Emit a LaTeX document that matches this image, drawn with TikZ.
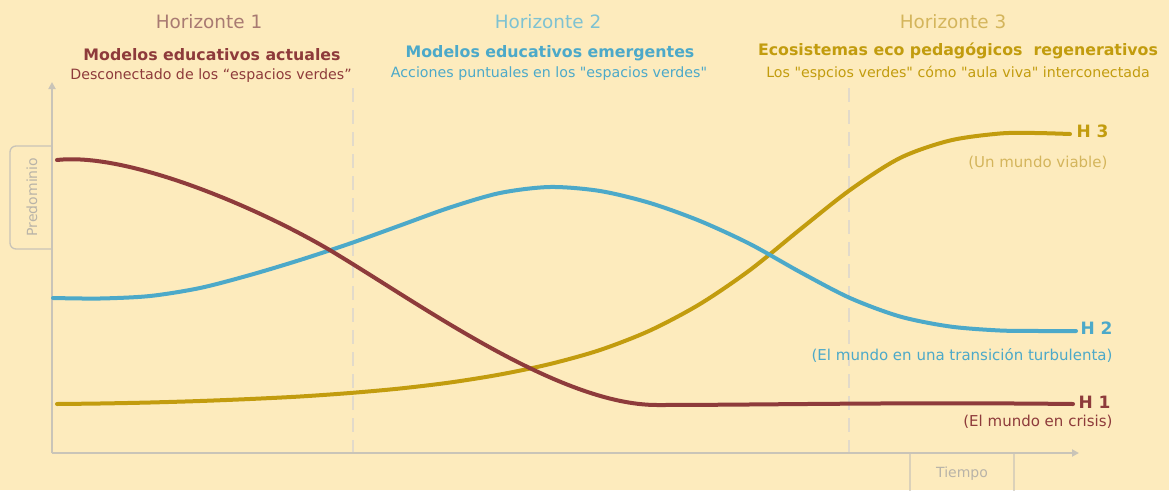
\documentclass[tikz,border=0pt]{standalone}
\usepackage{fontspec}
\setmainfont{DejaVu Sans}[Ligatures=TeXOff]
\usetikzlibrary{arrows.meta}
\definecolor{bg}{HTML}{FDEBBD}
\definecolor{axisc}{HTML}{C9C4B8}
\definecolor{dashc}{HTML}{E2DACA}
\definecolor{hred}{HTML}{8E3B3B}
\definecolor{hredl}{HTML}{A87A72}
\definecolor{hblue}{HTML}{4CA9C9}
\definecolor{hbluel}{HTML}{7EC2D2}
\definecolor{hgold}{HTML}{C29C0E}
\definecolor{hgoldl}{HTML}{D4B55C}
\definecolor{boxtext}{HTML}{B8B3A8}
\tikzset{
  horiz/.style={font=\fontsize{18.4}{20}\selectfont, anchor=center},
  ttl/.style={font=\bfseries\fontsize{15.8}{18}\selectfont, anchor=center},
  sub/.style={font=\fontsize{14.2}{16}\selectfont, anchor=center},
  hlab/.style={font=\bfseries\fontsize{17}{18}\selectfont, anchor=east},
  paren/.style={font=\fontsize{15}{17}\selectfont, anchor=east},
  curve/.style={line width=4pt, line cap=round, line join=round},
  axisline/.style={draw=axisc, line width=2pt},
  guide/.style={draw=dashc, line width=1.5pt, dash pattern=on 14pt off 8pt},
  axbox/.style={draw=axisc, line width=1.3pt, rounded corners=6pt},
  axtext/.style={text=boxtext, font=\fontsize{14}{16}\selectfont}
}
\begin{document}
\begin{tikzpicture}[x=1pt,y=-1pt]
\fill[bg] (0,0) rectangle (1169,490);
\useasboundingbox (0,0) rectangle (1169,490);

% guides
\coordinate (g1t) at (353,88); \coordinate (g1b) at (353,452);
\coordinate (g2t) at (849,88); \coordinate (g2b) at (849,452);
\draw[guide] (g1t) -- (g1b);
\draw[guide] (g2t) -- (g2b);

% axes
\coordinate (o) at (52,453);
\coordinate (ytip) at (52,82);
\coordinate (xtip) at (1079,453);
\draw[axisline, -{Triangle[length=7pt,width=7pt]}] (o) -- (ytip);
\draw[axisline, -{Triangle[length=7pt,width=7pt]}] (o) -- (xtip);

% Predominio box
\draw[axbox] (52,146) -- (10,146) -- (10,249) -- (52,249);
\node[axtext, rotate=90] (pred) at (32,197) {Predominio};
% Tiempo box
\draw[axbox] (910,453) -- (910,500) -- (1014,500) -- (1014,453);
\node[axtext] (tiempo) at (962,474) {Tiempo};

% headers
\node[horiz, text=hredl] (h1) at (209,22) {Horizonte 1};
\node[ttl, text=hred] (t1) at (212,55) {Modelos educativos actuales};
\node[sub, text=hred] (s1) at (211,76) {Desconectado de los “espacios verdes”};

\node[horiz, text=hbluel] (h2) at (548,22) {Horizonte 2};
\node[ttl, text=hblue] (t2) at (550,53) {Modelos educativos emergentes};
\node[sub, text=hblue] (s2) at (549,74) {Acciones puntuales en los "espacios verdes"};

\node[horiz, text=hgoldl] (h3) at (953,22) {Horizonte 3};
\node[ttl, text=hgold] (t3) at (958,51) {Ecosistemas eco pedagógicos\ \ regenerativos};
\node[sub, text=hgold] (s3) at (958,73) {Los "espcios verdes" cómo "aula viva" interconectada};

% curves
\draw[curve, hgold] plot[smooth, tension=0.5] coordinates {
 (57,404) (100,403.5) (150,402.5) (200,401) (250,399) (300,396.5) (350,393)
 (400,388.5) (450,382.5) (500,374.5) (550,364) (600,350) (650,330.5) (700,304)
 (750,270) (800,229.5) (850,190) (900,158) (950,140.5) (1000,133.5) (1035,133) (1070,134)};
\draw[curve, hblue] plot[smooth, tension=0.5] coordinates {
 (53,298) (100,298.5) (150,296) (200,288) (250,275) (300,260) (350,243.5)
 (400,225.5) (450,207.5) (500,193) (550,187) (600,191) (650,203) (700,221)
 (750,244) (800,272) (850,298) (900,316.5) (950,326.5) (1000,330.5) (1040,331) (1076,331)};
\draw[curve, hred] (57,160) .. controls (130,152) and (263,210) .. (333,252)
  .. controls (423,306) and (560,405) .. (657,405)
  .. controls (760,405) and (900,402) .. (1073,404);

% labels
\node[hlab, text=hgold] (l3) at (1112,131) {H 3};
\node[paren, text=hgoldl] (p3) at (1111,163) {(Un mundo viable)};
\node[hlab, text=hblue] (l2) at (1116,328) {H 2};
\node[paren, text=hblue] (p2) at (1116,355) {(El mundo en una transición turbulenta)};
\node[hlab, text=hred] (l1) at (1114,402) {H 1};
\node[paren, text=hred] (p1) at (1116,422) {(El mundo en crisis)};
\end{tikzpicture}
\end{document}
